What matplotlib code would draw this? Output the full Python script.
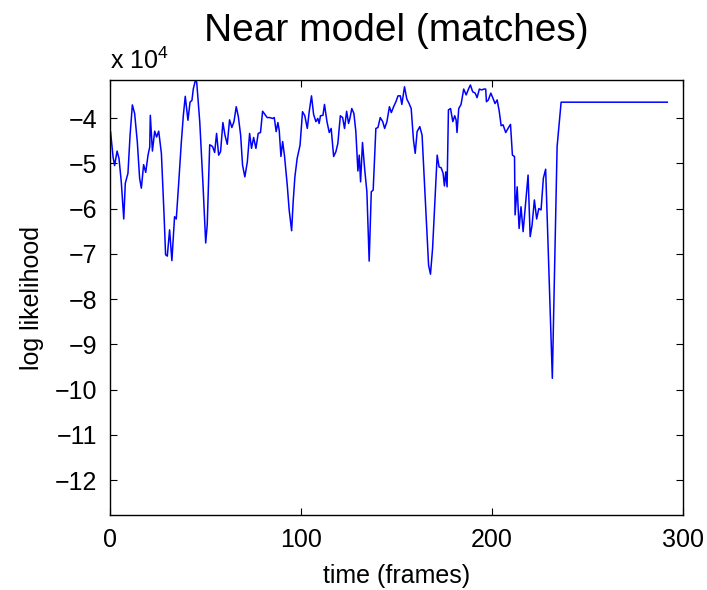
import matplotlib
matplotlib.use("Agg")
import matplotlib.pyplot as plt
from matplotlib.ticker import FixedLocator

plt.rcParams["font.family"] = ["Liberation Sans", "DejaVu Sans"]
plt.rcParams["mathtext.default"] = "regular"

# Log likelihood of the near model per frame (units of 1e4)
frames = [
    0.3, 1.6, 2.4, 3.7, 4.7, 5.9, 7.2, 8.0, 9.4, 10.5, 11.7, 12.9, 14.3, 15.5, 16.4,
    17.6, 18.7, 19.9, 20.8, 21.1, 22.2, 23.4, 24.4, 25.5, 26.9, 28.3, 29.1, 30.0,
    31.2, 32.4, 33.8, 34.7, 35.9, 37.3, 38.4, 39.4, 40.8, 41.9, 42.9, 43.6, 44.7,
    45.4, 47.0, 48.7, 50.1, 50.9, 52.2,
    53.7, 54.8, 55.8, 56.9, 57.9, 59.1, 60.2, 61.4, 62.6, 63.8, 64.9, 66.1, 67.2,
    68.4, 69.4, 70.6, 71.9, 73.1, 74.1, 75.2, 76.4, 77.6, 78.8, 79.9, 81.1, 82.3,
    83.7, 85.1, 86.0, 87.0, 87.9, 88.6, 89.5, 90.4, 91.4, 92.8, 93.8, 95.1, 95.9,
    96.8, 98.0, 99.5, 100.8, 102.0, 103.3, 104.3, 105.5,
    106.6, 107.8, 108.8, 109.5, 110.2, 111.5, 112.3, 113.6, 114.8, 115.8, 117.1,
    118.3, 119.3, 120.6, 121.8, 122.8, 123.9, 124.9, 125.6, 126.6, 127.7, 128.7,
    129.8, 130.5, 131.2, 132.2, 133.3, 134.5, 135.7, 136.8, 137.8, 139.2, 140.3,
    141.5, 142.8, 143.8, 145.0, 146.3, 147.3, 148.5, 149.7, 150.8, 152.0, 152.8,
    154.2, 155.4, 156.6, 157.7, 158.9, 159.8, 160.8,
    162.2, 163.4, 164.7, 165.7, 166.8, 167.8, 168.9, 170.1, 171.3, 172.3, 173.4,
    174.4, 175.1, 175.8, 176.5, 177.2, 178.3, 179.5, 180.5, 181.2, 181.7, 182.6,
    183.8, 185.2, 186.5, 187.7, 188.7, 189.9, 191.2, 192.2, 193.4, 194.6, 195.7,
    196.7, 197.1, 198.1, 199.4, 200.6, 201.6, 202.7, 203.8, 204.8, 205.8, 207.2,
    208.4, 209.7, 210.7, 211.8, 212.1, 213.2,
    214.2, 215.2, 216.3, 217.7, 218.9, 220.0, 221.0, 222.2, 223.4, 224.5, 225.7,
    226.9, 228.1, 231.6, 234.1, 236.2, 291.8,
]
loglik = [
    -4.31, -4.86, -5.05, -4.73, -4.89, -5.41, -6.23, -5.44, -5.22, -4.38, -3.71,
    -3.90, -4.53, -5.33, -5.55, -5.03, -5.20, -4.82, -4.64, -3.94, -4.73, -4.29,
    -4.42, -4.29, -4.78, -6.14, -7.02, -7.05, -6.47, -7.15, -6.18, -6.23, -5.48,
    -4.56, -3.94, -3.52, -4.05, -3.65, -3.61, -3.36, -3.17, -3.21, -4.09, -5.48,
    -6.76, -6.36, -4.59,
    -4.63, -4.76, -4.34, -4.82, -4.74, -4.10, -4.38, -4.58, -4.04, -4.21, -4.08,
    -3.75, -3.97, -4.38, -5.04, -5.30, -4.97, -4.34, -4.67, -4.43, -4.67, -4.34,
    -4.32, -3.85, -3.92, -3.99, -3.99, -4.01, -3.99, -4.30, -4.10, -4.27, -4.85,
    -4.52, -4.85, -5.48, -6.03, -6.49, -5.85, -5.30, -4.89, -4.60, -3.86, -3.95,
    -4.23, -3.86, -3.51,
    -3.92, -4.08, -4.01, -4.12, -3.95, -3.94, -3.70, -4.08, -4.32, -4.23, -4.85,
    -4.74, -4.56, -3.95, -3.99, -4.23, -3.85, -4.12, -4.01, -3.79, -3.90, -4.29,
    -5.17, -4.82, -5.41, -4.54, -5.11, -5.63, -7.16, -5.63, -5.59, -4.23, -4.21,
    -3.99, -4.08, -4.23, -4.08, -3.75, -3.88, -3.75, -3.64, -3.51, -3.51, -3.70,
    -3.31, -3.58, -3.68, -3.79, -4.49, -4.78, -4.30,
    -4.19, -4.38, -5.48, -6.36, -7.25, -7.45, -6.88, -5.85, -4.82, -5.08, -5.10,
    -5.22, -5.50, -5.19, -5.52, -3.82, -3.79, -4.08, -3.95, -4.04, -4.32, -3.79,
    -3.70, -3.36, -3.49, -3.36, -3.27, -3.42, -3.45, -3.55, -3.36, -3.38, -3.36,
    -3.36, -3.64, -3.60, -3.45, -3.57, -3.68, -3.60, -3.85, -4.17, -4.15, -4.32,
    -4.23, -4.14, -4.82, -4.85, -6.14, -5.52,
    -6.44, -5.96, -6.51, -5.85, -5.26, -6.62, -6.36, -5.81, -6.23, -6.00, -6.03,
    -5.33, -5.13, -9.75, -4.63, -3.65, -3.65,
]

x_ticks = [0, 100, 200, 300]
y_ticks = [-12, -11, -10, -9, -8, -7, -6, -5, -4]

fig = plt.figure(figsize=(7.07, 5.90), dpi=100)
ax = fig.add_axes([0.1556, 0.1271, 0.966 - 0.1556, 0.8644 - 0.1271])

ax.plot(frames, loglik, color="#0000ff", linewidth=1.1)

ax.set_xlim(0, 300)
ax.set_ylim(-12.77, -3.16)
ax.xaxis.set_major_locator(FixedLocator(x_ticks))
ax.yaxis.set_major_locator(FixedLocator(y_ticks))
ax.set_xticklabels([str(t) for t in x_ticks])
ax.set_yticklabels(["\u2212" + str(abs(t)) for t in y_ticks])

ax.tick_params(direction="in", length=5, width=0.8, labelsize=18,
               top=True, right=True, pad=9)
for s in ax.spines.values():
    s.set_linewidth(1.0)

ax.set_xlabel("time (frames)", fontsize=18, labelpad=9)
ax.set_ylabel("log likelihood", fontsize=18, labelpad=8)
ax.set_title("Near model (matches)", fontsize=28, pad=28)

fig.text(0.1556, 0.875, "x 10$^{4}$", fontsize=18, ha="left", va="bottom")

fig.savefig("out.png", dpi=100)
